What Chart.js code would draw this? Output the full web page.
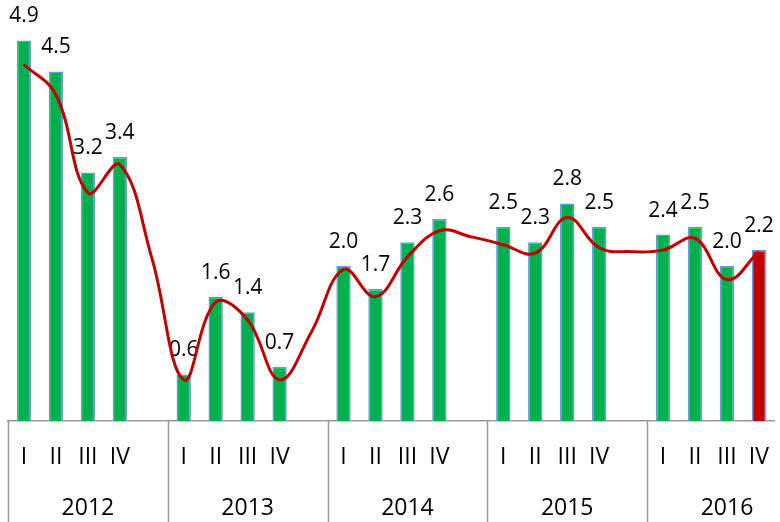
<!DOCTYPE html>
<html>
<head>
<meta charset="utf-8">
<script src="https://cdn.jsdelivr.net/npm/chart.js@4/dist/chart.umd.min.js"></script>
<style>
  html, body { margin: 0; padding: 0; background: #fff; }
  #wrap { width: 780px; height: 522px; }
</style>
</head>
<body>
<div id="wrap"><canvas id="chart"></canvas></div>
<script>
// quarter slots, one empty slot between years
const quarters = ["I", "II", "III", "IV", "", "I", "II", "III", "IV", "", "I", "II", "III", "IV", "", "I", "II", "III", "IV", "", "I", "II", "III", "IV"];
const years = ["2012", "2013", "2014", "2015", "2016"];
const values = [4.9, 4.5, 3.2, 3.4, null, 0.6, 1.6, 1.4, 0.7, null, 2.0, 1.7, 2.3, 2.6, null, 2.5, 2.3, 2.8, 2.5, null, 2.4, 2.5, 2.0, 2.2];
// smoothed red line
const trend = [4.59, 4.2, 2.94, 3.3, 2.1, 0.53, 1.53, 1.3, 0.53, 1.15, 1.95, 1.6, 2.11, 2.45, 2.37, 2.27, 2.16, 2.62, 2.23, 2.18, 2.2, 2.35, 1.82, 2.18];

const GREEN = "#00b050";
const RED = "#c00000";

// label for each slot: quarter, plus year under the middle (III) slot
const labels = quarters.map((q, i) => {
  const year = i % 5 === 2 ? years[Math.floor(i / 5)] : "";
  return [q, year];
});
const barColors = values.map((v, i) => (i === values.length - 1 ? RED : GREEN));

const valueLabels = {
  id: "valueLabels",
  afterDatasetDraw(chart, args) {
    if (args.index !== 0) return;
    const ctx = chart.ctx;
    ctx.save();
    ctx.font = "21px 'Open Sans'";
    ctx.fillStyle = "#000";
    ctx.textAlign = "center";
    ctx.textBaseline = "middle";
    args.meta.data.forEach((el, i) => {
      if (values[i] == null) return;
      ctx.fillText(values[i].toFixed(1), el.x, el.y - 24);
    });
    ctx.restore();
  },
};

const yearSeparators = {
  id: "yearSeparators",
  afterDraw(chart) {
    const x = chart.scales.x;
    const ctx = chart.ctx;
    const half = (x.getPixelForValue(1) - x.getPixelForValue(0)) / 2;
    ctx.save();
    ctx.strokeStyle = "#999";
    ctx.lineWidth = 1.5;
    for (let g = 0; g < years.length; g++) {
      const px = Math.round(x.getPixelForValue(g * 5) - half) + 0.5;
      ctx.beginPath();
      ctx.moveTo(px, chart.chartArea.bottom);
      ctx.lineTo(px, chart.height);
      ctx.stroke();
    }
    ctx.restore();
  },
};

new Chart(document.getElementById("chart"), {
  data: {
    labels,
    datasets: [
      {
        type: "bar",
        data: values,
        backgroundColor: barColors,
        borderColor: "#6a9ad6",
        borderWidth: 1.5,
        barPercentage: 0.45,
        categoryPercentage: 1,
        order: 1,
      },
      {
        type: "line",
        data: trend,
        borderColor: RED,
        borderWidth: 3,
        pointRadius: 0,
        tension: 0.4,
        fill: false,
        order: 0,
      },
    ],
  },
  options: {
    responsive: true,
    maintainAspectRatio: false,
    animation: false,
    layout: { padding: { left: 8, right: 0, top: 0, bottom: 0 } },
    plugins: { legend: { display: false }, tooltip: { enabled: false } },
    scales: {
      x: {
        grid: { display: false, drawTicks: false },
        border: { display: true, color: "#999", width: 1.5 },
        ticks: {
          color: "#000",
          font: { family: "'Open Sans'", size: 23, lineHeight: 2.22 },
          padding: 11,
          maxRotation: 0,
          autoSkip: false,
        },
        afterFit: (s) => { s.height = 101; },
      },
      y: {
        display: false,
        min: 0,
        max: 5.42,
      },
    },
  },
  plugins: [valueLabels, yearSeparators],
});
</script>
</body>
</html>
